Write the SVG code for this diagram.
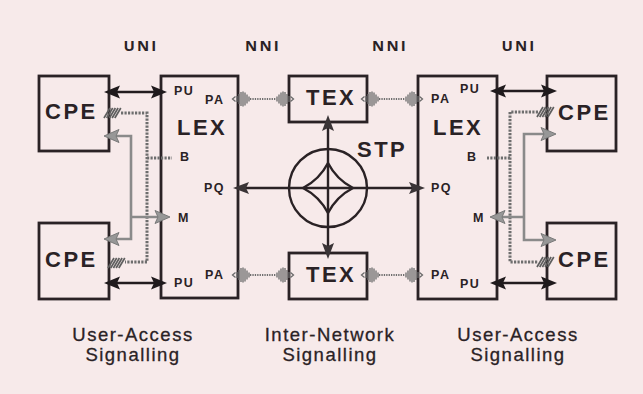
<svg xmlns="http://www.w3.org/2000/svg" xmlns:xlink="http://www.w3.org/1999/xlink" width="643" height="394" viewBox="0 0 643 394">
<style>
.box{fill:none;stroke:#2a2225;stroke-width:2.8}
.big{font-family:"Liberation Sans",Arial,sans-serif;font-weight:bold;font-size:22px;letter-spacing:2.5px;fill:#2a2225}
.sm{font-family:"Liberation Sans",Arial,sans-serif;font-weight:bold;font-size:12.5px;letter-spacing:1.5px;fill:#2a2225}
.top{font-family:"Open Sans","Liberation Sans",sans-serif;font-weight:700;font-size:15px;letter-spacing:2.2px;fill:#2a2225;text-anchor:middle}
.bot{font-family:"Liberation Sans",Arial,sans-serif;font-size:18.5px;letter-spacing:1.5px;fill:#2a2225;stroke:#2a2225;stroke-width:0.3;text-anchor:middle}
.blk{fill:none;stroke:#231c1f;stroke-width:2.4}
.gry{fill:none;stroke:#8a8a8a;stroke-width:2.6}
.hat{fill:none;stroke:#6e6e6e;stroke-width:3;stroke-dasharray:2.2 1.3}
.dot{fill:none;stroke:#6e6e6e;stroke-width:1.8;stroke-dasharray:1.3 1.1}
.stp{fill:none;stroke:#2a2225;stroke-width:2.4}
</style>
<defs>
<path id="ahB" d="M0,0 L-16,-6.5 L-13,0 L-16,6.5 Z" fill="#1f1a1c"/>
<path id="ahG" d="M0,0 L-15,-6.5 L-12,0 L-15,6.5 Z" fill="#979797" stroke="#7a7a7a" stroke-width="1"/>
<path id="ahS" d="M0,0 L-16,-6 L-13,0 L-16,6 Z" fill="#3a3436"/>
<g id="hb" stroke="#5e5e5e" stroke-width="1.7">
<line x1="0" y1="5" x2="6" y2="-5"/><line x1="2.7" y1="5" x2="8.7" y2="-5"/><line x1="5.4" y1="5" x2="11.4" y2="-5"/><line x1="8.1" y1="5" x2="14.1" y2="-5"/><line x1="10.8" y1="5" x2="16.8" y2="-5"/>
</g>
<g id="burst" stroke="#6a6a6a" stroke-width="1.3" fill="none">
<path d="M3.5,-2.5 L0.5,0 L3.5,2.5"/>
<line x1="5" y1="-3" x2="5" y2="3"/><line x1="7" y1="-5" x2="7" y2="5"/><line x1="9" y1="-7" x2="9" y2="7"/><line x1="11" y1="-7.5" x2="11" y2="7.5"/><line x1="13" y1="-6.5" x2="13" y2="6.5"/><line x1="15" y1="-4.5" x2="15" y2="4.5"/><line x1="17" y1="-2.5" x2="17" y2="2.5"/>
</g>
</defs>
<rect width="643" height="394" fill="#f7eaea"/>

<g id="labels">
<text class="top" x="141" y="51">UNI</text>
<text class="top" x="263" y="51">NNI</text>
<text class="top" x="390" y="51">NNI</text>
<text class="top" x="519" y="51">UNI</text>
<text class="bot" x="133" y="341">User-Access</text>
<text class="bot" x="133" y="361">Signalling</text>
<text class="bot" x="330" y="341">Inter-Network</text>
<text class="bot" x="330" y="361">Signalling</text>
<text class="bot" x="518" y="341">User-Access</text>
<text class="bot" x="518" y="361">Signalling</text>
</g>

<g id="cpe-tl"><rect class="box" x="39" y="76" width="70" height="75"/><text class="big" x="45" y="119">CPE</text></g>
<g id="cpe-bl"><rect class="box" x="39" y="223" width="70" height="76"/><text class="big" x="45" y="267">CPE</text></g>
<g id="lex-l"><rect class="box" x="161" y="76" width="77" height="222"/>
<text class="big" x="177" y="135">LEX</text>
<text class="sm" x="174" y="95">PU</text><text class="sm" x="205" y="104">PA</text>
<text class="sm" x="180" y="161">B</text>
<text class="sm" x="204" y="192">PQ</text>
<text class="sm" x="178" y="222">M</text>
<text class="sm" x="205" y="279">PA</text><text class="sm" x="174" y="287">PU</text>
</g>
<g id="tex-t"><rect class="box" x="289" y="76" width="78" height="46"/><text class="big" x="306" y="105">TEX</text></g>
<g id="tex-b"><rect class="box" x="289" y="253" width="78" height="46"/><text class="big" x="306" y="282">TEX</text></g>
<g id="stp">
<circle class="stp" cx="328" cy="188" r="39"/>
<path class="stp" stroke-width="2" d="M328,163 Q336.5,179.5 353,188 Q336.5,196.5 328,213 Q319.5,196.5 303,188 Q319.5,179.5 328,163 Z"/>
<text class="big" x="357" y="157">STP</text>
</g>
<g id="lex-r"><rect class="box" x="418" y="76" width="79" height="223"/>
<text class="big" x="433" y="135">LEX</text>
<text class="sm" x="431" y="103">PA</text><text class="sm" x="460" y="93">PU</text>
<text class="sm" x="467" y="161">B</text>
<text class="sm" x="431" y="192">PQ</text>
<text class="sm" x="473" y="222">M</text>
<text class="sm" x="431" y="279">PA</text><text class="sm" x="460" y="288">PU</text>
</g>
<g id="cpe-tr"><rect class="box" x="547" y="76" width="69" height="75"/><text class="big" x="558" y="120">CPE</text></g>
<g id="cpe-br"><rect class="box" x="547" y="223" width="69" height="76"/><text class="big" x="558" y="267">CPE</text></g>

<g id="connectors">
<path class="blk" d="M115,92 H156 M115,283 H156 M501,91 H546 M501,283 H546"/>
<use href="#ahB" transform="translate(104,92) rotate(180)"/><use href="#ahB" transform="translate(167,92)"/>
<use href="#ahB" transform="translate(104,283) rotate(180)"/><use href="#ahB" transform="translate(167,283)"/>
<use href="#ahB" transform="translate(490,91) rotate(180)"/><use href="#ahB" transform="translate(557,91)"/>
<use href="#ahB" transform="translate(490,283) rotate(180)"/><use href="#ahB" transform="translate(557,283)"/>
<path class="hat" d="M121,113 H147 V262 H125 M147,158 H172"/>
<use href="#hb" transform="translate(104,113)"/>
<use href="#hb" transform="translate(108,263)"/>
<path class="hat" d="M538,112 H510 V262 H538 M510,158 H487"/>
<use href="#hb" transform="translate(537,112)"/>
<use href="#hb" transform="translate(537,262)"/>
<path class="gry" d="M112,136 H131 V239 H112 M131,217 H160"/>
<use href="#ahG" transform="translate(104,136) rotate(180)"/>
<use href="#ahG" transform="translate(104,239) rotate(180)"/>
<use href="#ahG" transform="translate(170,217)"/>
<path class="gry" d="M546,134 H524 V240 H546 M524,217 H500"/>
<use href="#ahG" transform="translate(556,134)"/>
<use href="#ahG" transform="translate(556,240)"/>
<use href="#ahG" transform="translate(490,217) rotate(180)"/>
<use href="#burst" transform="translate(232,99)"/><line class="dot" x1="250" y1="99" x2="276" y2="99"/><use href="#burst" transform="translate(294,99) scale(-1,1)"/>
<use href="#burst" transform="translate(361,99)"/><line class="dot" x1="379" y1="99" x2="405" y2="99"/><use href="#burst" transform="translate(423,99) scale(-1,1)"/>
<use href="#burst" transform="translate(232,275)"/><line class="dot" x1="250" y1="275" x2="276" y2="275"/><use href="#burst" transform="translate(294,275) scale(-1,1)"/>
<use href="#burst" transform="translate(361,275)"/><line class="dot" x1="379" y1="275" x2="405" y2="275"/><use href="#burst" transform="translate(423,275) scale(-1,1)"/>
<path class="stp" d="M328,128 V247 M245,188 H412"/>
<use href="#ahS" transform="translate(328,115) rotate(-90)"/>
<use href="#ahS" transform="translate(328,259) rotate(90)"/>
<use href="#ahS" transform="translate(233,188) rotate(180)"/>
<use href="#ahS" transform="translate(425,188)"/>
</g>
</svg>
